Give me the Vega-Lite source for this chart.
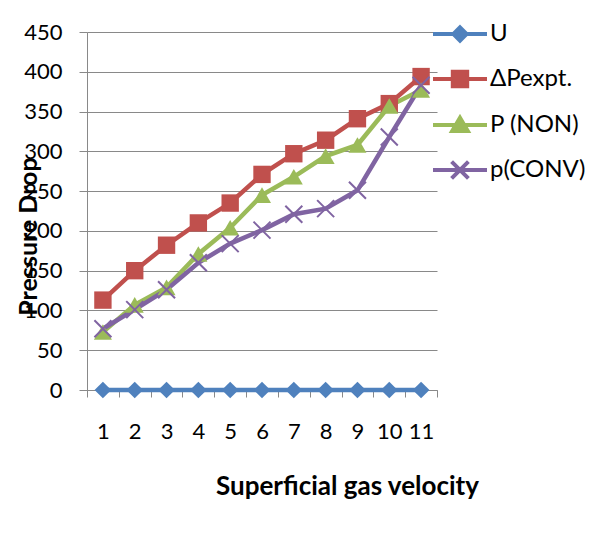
{
 "$schema": "https://vega.github.io/schema/vega-lite/v6.json",
 "width": 350,
 "height": 358,
 "autosize": {"type": "none"},
 "padding": {"left": 87, "top": 32, "right": 155, "bottom": 145},
 "background": "white",
 "config": {"view": {"stroke": null}, "font": "Lato"},
 "data": {"values": [
  {"x": 1, "series": "U", "value": 0}, {"x": 2, "series": "U", "value": 0}, {"x": 3, "series": "U", "value": 0}, {"x": 4, "series": "U", "value": 0}, {"x": 5, "series": "U", "value": 0}, {"x": 6, "series": "U", "value": 0}, {"x": 7, "series": "U", "value": 0}, {"x": 8, "series": "U", "value": 0}, {"x": 9, "series": "U", "value": 0}, {"x": 10, "series": "U", "value": 0}, {"x": 11, "series": "U", "value": 0},
  {"x": 1, "series": "ΔPexpt.", "value": 113}, {"x": 2, "series": "ΔPexpt.", "value": 150}, {"x": 3, "series": "ΔPexpt.", "value": 182}, {"x": 4, "series": "ΔPexpt.", "value": 210}, {"x": 5, "series": "ΔPexpt.", "value": 235}, {"x": 6, "series": "ΔPexpt.", "value": 271}, {"x": 7, "series": "ΔPexpt.", "value": 297}, {"x": 8, "series": "ΔPexpt.", "value": 314}, {"x": 9, "series": "ΔPexpt.", "value": 341}, {"x": 10, "series": "ΔPexpt.", "value": 360}, {"x": 11, "series": "ΔPexpt.", "value": 394},
  {"x": 1, "series": "P (NON)", "value": 73}, {"x": 2, "series": "P (NON)", "value": 107}, {"x": 3, "series": "P (NON)", "value": 129}, {"x": 4, "series": "P (NON)", "value": 171}, {"x": 5, "series": "P (NON)", "value": 204}, {"x": 6, "series": "P (NON)", "value": 245}, {"x": 7, "series": "P (NON)", "value": 268}, {"x": 8, "series": "P (NON)", "value": 294}, {"x": 9, "series": "P (NON)", "value": 308}, {"x": 10, "series": "P (NON)", "value": 357}, {"x": 11, "series": "P (NON)", "value": 377},
  {"x": 1, "series": "p(CONV)", "value": 77}, {"x": 2, "series": "p(CONV)", "value": 101}, {"x": 3, "series": "p(CONV)", "value": 126}, {"x": 4, "series": "p(CONV)", "value": 160}, {"x": 5, "series": "p(CONV)", "value": 184}, {"x": 6, "series": "p(CONV)", "value": 201}, {"x": 7, "series": "p(CONV)", "value": 221}, {"x": 8, "series": "p(CONV)", "value": 228}, {"x": 9, "series": "p(CONV)", "value": 251}, {"x": 10, "series": "p(CONV)", "value": 318}, {"x": 11, "series": "p(CONV)", "value": 383}
 ]},
 "encoding": {
  "x": {"field": "x", "type": "ordinal",
   "scale": {"type": "band", "paddingInner": 0, "paddingOuter": 0},
   "axis": {"title": "Superficial gas velocity", "titleFont": "Lato", "titleFontWeight": "bold", "titleFontSize": 26, "titleColor": "black",
    "titleX": 260, "titleY": 96, "titleBaseline": "middle", "titleAlign": "center",
    "labelAngle": 0, "tickBand": "extent", "tickSize": 7, "labelPadding": 24, "labelFontSize": 22, "labelColor": "black", "labelFont": "Lato",
    "domainColor": "#898989", "tickColor": "#898989", "grid": false}},
  "y": {"field": "value", "type": "quantitative",
   "scale": {"domain": [0, 450], "nice": false},
   "axis": {"title": "Pressure Drop", "titleFont": "Lato", "titleFontWeight": "bold", "titleFontSize": 25, "titleColor": "black",
    "titleX": -59, "titleY": 204, "titleAngle": -90, "titleBaseline": "middle", "titleAlign": "center",
    "values": [0, 50, 100, 150, 200, 250, 300, 350, 400, 450],
    "grid": true, "gridColor": "#898989", "gridWidth": 1, "domainColor": "#898989", "tickColor": "#898989", "tickSize": 8,
    "labelPadding": 17, "labelFontSize": 22, "labelColor": "black", "labelFont": "Lato"}},
  "color": {"field": "series", "type": "nominal",
   "scale": {"domain": ["U", "ΔPexpt.", "P (NON)", "p(CONV)"], "range": ["#4F81BD", "#C0504D", "#9BBB59", "#8064A2"]},
   "legend": {"orient": "none", "legendX": 359, "legendY": -12, "title": null, "padding": 0,
    "symbolSize": 576, "symbolStrokeWidth": 4, "labelOffset": 16, "labelFontSize": 24, "labelFont": "Lato", "labelColor": "black",
    "rowPadding": 14, "labelLimit": 0,
    "encode": {"symbols": {"update": {
     "shape": {"signal": "datum.value === 'U' ? 'M-2.25,0H2.25M0,-0.55L0.55,0L0,0.55L-0.55,0Z' : datum.value === 'ΔPexpt.' ? 'M-2.25,0H2.25M-0.6,-0.6H0.6V0.6H-0.6Z' : datum.value === 'P (NON)' ? 'M-2.25,0H2.25M0,-0.6L0.65,0.5H-0.65Z' : 'M-2.25,0H2.25M-0.7,-0.7L0.7,0.7M-0.7,0.7L0.7,-0.7'"},
     "fill": {"signal": "scale('color', datum.value)"},
     "stroke": {"signal": "scale('color', datum.value)"},
     "strokeWidth": {"value": 4},
     "size": {"value": 576},
     "opacity": {"value": 1}
    }}}}}
 },
 "layer": [
  {"mark": {"type": "line", "strokeWidth": 4.5}},
  {"transform": [{"filter": "datum.series !== 'p(CONV)'"}],
   "mark": {"type": "point", "filled": true, "opacity": 1},
   "encoding": {
    "shape": {"field": "series", "type": "nominal", "scale": {"domain": ["U", "ΔPexpt.", "P (NON)"], "range": ["diamond", "square", "triangle-up"]}, "legend": null},
    "size": {"field": "series", "type": "ordinal", "scale": {"domain": ["U", "ΔPexpt.", "P (NON)"], "range": [280, 324, 300]}, "legend": null}
   }},
  {"transform": [{"filter": "datum.series === 'p(CONV)'"}],
   "mark": {"type": "point", "shape": "M-1,-1L1,1M-1,1L1,-1", "filled": false, "strokeWidth": 2, "size": 289, "opacity": 1}}
 ]
}
